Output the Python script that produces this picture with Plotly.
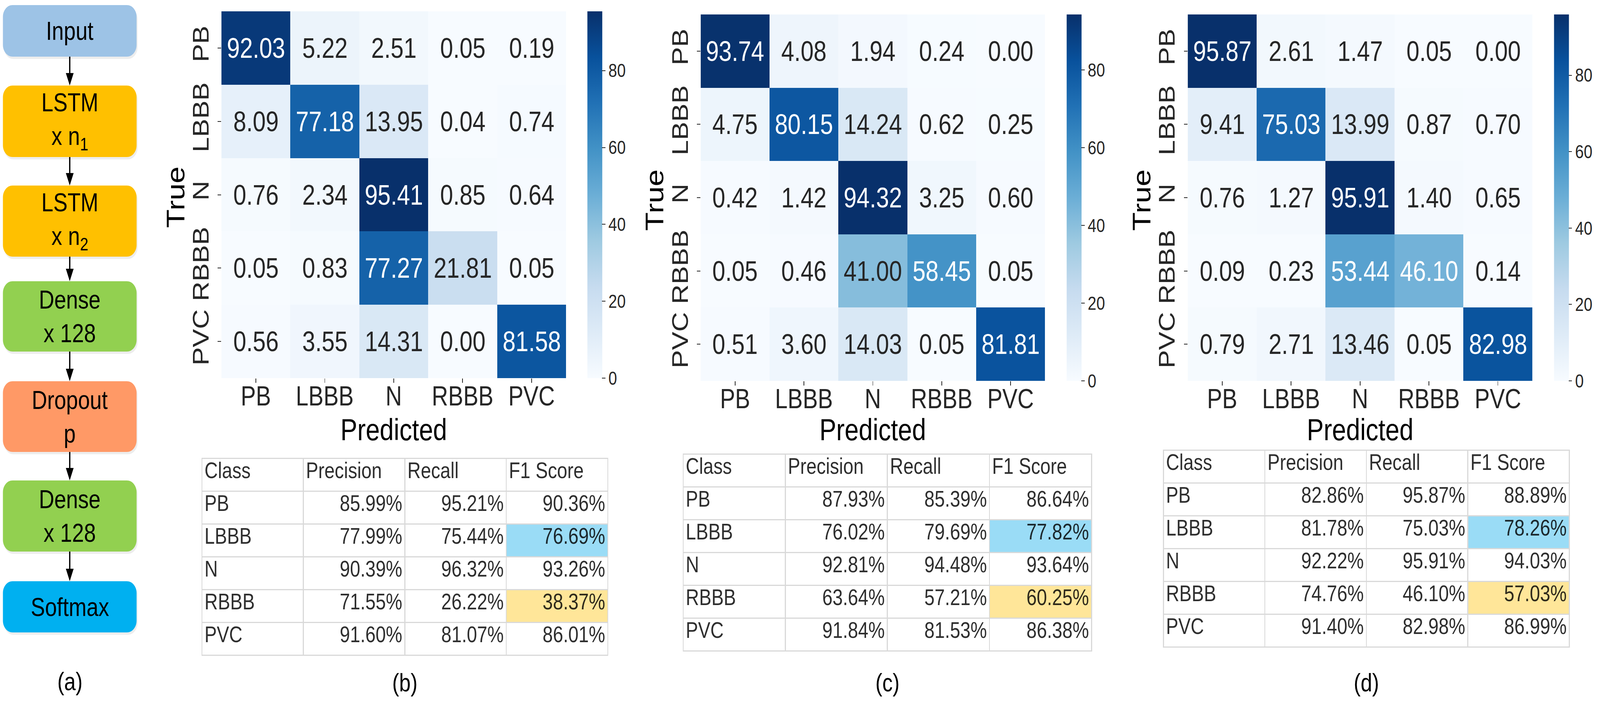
import plotly.graph_objects as go

W, H = 4944, 1833

# ---------------- data ----------------
classes = ["PB", "LBBB", "N", "RBBB", "PVC"]

cm_b = [[92.03, 5.22, 2.51, 0.05, 0.19],
        [8.09, 77.18, 13.95, 0.04, 0.74],
        [0.76, 2.34, 95.41, 0.85, 0.64],
        [0.05, 0.83, 77.27, 21.81, 0.05],
        [0.56, 3.55, 14.31, 0.00, 81.58]]
cm_c = [[93.74, 4.08, 1.94, 0.24, 0.00],
        [4.75, 80.15, 14.24, 0.62, 0.25],
        [0.42, 1.42, 94.32, 3.25, 0.60],
        [0.05, 0.46, 41.00, 58.45, 0.05],
        [0.51, 3.60, 14.03, 0.05, 81.81]]
cm_d = [[95.87, 2.61, 1.47, 0.05, 0.00],
        [9.41, 75.03, 13.99, 0.87, 0.70],
        [0.76, 1.27, 95.91, 1.40, 0.65],
        [0.09, 0.23, 53.44, 46.10, 0.14],
        [0.79, 2.71, 13.46, 0.05, 82.98]]

colorbar_ticks = [0, 20, 40, 60, 80]

table_header = ["Class", "Precision", "Recall", "F1 Score"]
prec_b = [85.99, 77.99, 90.39, 71.55, 91.60]
rec_b = [95.21, 75.44, 96.32, 26.22, 81.07]
f1_b = [90.36, 76.69, 93.26, 38.37, 86.01]
prec_c = [87.93, 76.02, 92.81, 63.64, 91.84]
rec_c = [85.39, 79.69, 94.48, 57.21, 81.53]
f1_c = [86.64, 77.82, 93.64, 60.25, 86.38]
prec_d = [82.86, 81.78, 92.22, 74.76, 91.40]
rec_d = [95.87, 75.03, 95.91, 46.10, 82.98]
f1_d = [88.89, 78.26, 94.03, 57.03, 86.99]

layers = ["Input", "LSTM<br>x n<sub>1</sub>", "LSTM<br>x n<sub>2</sub>",
          "Dense<br>x 128", "Dropout<br>p", "Dense<br>x 128", "Softmax"]
layer_colors = ["#9DC3E6", "#FFC000", "#FFC000", "#92D050", "#FF9966", "#92D050", "#00B0F0"]

panel_labels = ["(a)", "(b)", "(c)", "(d)"]
x_title = "Predicted"
y_title = "True"

# ---------------- styling ----------------
FONT = "Liberation Sans, Arial, sans-serif"
TXT = "#262626"
blues = ["#f7fbff", "#deebf7", "#c6dbef", "#9ecae1", "#6baed6",
         "#4292c6", "#2171b5", "#08519c", "#08306b"]
blues_scale = [[i / (len(blues) - 1), c] for i, c in enumerate(blues)]
HL_BLUE = "#9ADCF6"
HL_YELLOW = "#FFE699"


def px(x):
    return x / W


def py(y):
    return 1 - y / H


panels = [
    dict(cm=cm_b, prec=prec_b, rec=rec_b, f1=f1_b,
         hm=(684, 29, 1749, 968), cb=1815, tb=(624, 1173, 1878)),
    dict(cm=cm_c, prec=prec_c, rec=rec_c, f1=f1_c,
         hm=(2165, 37, 3229, 975), cb=3296, tb=(2111, 1162, 3373)),
    dict(cm=cm_d, prec=prec_d, rec=rec_d, f1=f1_d,
         hm=(3670, 37, 4735, 975), cb=4802, tb=(3595, 1152, 4849)),
]
ROW_H = 84

fig = go.Figure()
annotations = []
shapes = []
layout_axes = {}

for k, p in enumerate(panels):
    n = "" if k == 0 else str(k + 1)
    cm = p["cm"]
    zmax = max(max(r) for r in cm)
    x0, y0, x1, y1 = p["hm"]
    fig.add_trace(go.Heatmap(
        z=cm, x=classes, y=classes, xaxis="x" + n, yaxis="y" + n,
        zmin=0, zmax=zmax, colorscale=blues_scale, showscale=True,
        hoverinfo="skip",
        colorbar=dict(
            x=px(p["cb"]), xanchor="left", xpad=0, ypad=0,
            y=py(y0), yanchor="top", len=(y1 - y0) / H, lenmode="fraction",
            thickness=46, thicknessmode="pixels", outlinewidth=0,
            tickvals=colorbar_ticks, ticks="outside", ticklen=10, tickwidth=2,
            tickcolor=TXT, tickfont=dict(family=FONT, size=48, color=TXT)),
    ))
    layout_axes["xaxis" + n] = dict(
        domain=[px(x0), px(x1)], anchor="y" + n, type="category",
        tickfont=dict(family=FONT, size=70, color=TXT),
        ticks="outside", ticklen=11, tickwidth=2, tickcolor=TXT,
        ticklabelstandoff=-26,
        showgrid=False, zeroline=False, showline=False,
    )
    layout_axes["yaxis" + n] = dict(
        domain=[py(y1), py(y0)], anchor="x" + n, type="category",
        autorange="reversed", tickangle=-90,
        tickfont=dict(family=FONT, size=70, color=TXT),
        ticks="outside", ticklen=11, tickwidth=2, tickcolor=TXT,
        showgrid=False, zeroline=False, showline=False,
    )
    # axis titles
    annotations.append(dict(
        x=px((x0 + x1) / 2), y=py(1100), xref="paper", yref="paper",
        xanchor="center", yanchor="middle", text=x_title, showarrow=False,
        font=dict(family=FONT, size=78, color="black")))
    annotations.append(dict(
        x=px(x0 - 142), y=py((y0 + y1) / 2 + 6), xref="paper", yref="paper",
        xanchor="center", yanchor="middle", text=y_title, showarrow=False,
        textangle=-90, font=dict(family=FONT, size=78, color="black")))
    for i, row in enumerate(cm):
        for j, v in enumerate(row):
            annotations.append(dict(
                x=classes[j], y=classes[i], xref="x" + n, yref="y" + n,
                text=f"{v:.2f}", showarrow=False,
                xanchor="center", yanchor="middle",
                font=dict(family=FONT, size=72,
                          color="white" if v / zmax > 0.45 else TXT)))

    tx0, ty0, tx1 = p["tb"]
    f1_fill = ["white", HL_BLUE, "white", HL_YELLOW, "white"]
    fig.add_trace(go.Table(
        domain=dict(x=[px(tx0), px(tx1)], y=[py(ty0 + ROW_H * 6 + 20), py(ty0)]),
        columnwidth=[1, 1, 1, 1],
        header=dict(values=table_header, height=ROW_H, align="left",
                    fill_color="white", line=dict(color="#D9D9D9", width=3),
                    font=dict(family=FONT, size=57, color="rgba(0,0,0,0.82)")),
        cells=dict(values=[classes,
                           [f"{v:.2f}%" for v in p["prec"]],
                           [f"{v:.2f}%" for v in p["rec"]],
                           [f"{v:.2f}%" for v in p["f1"]]],
                   height=ROW_H, align=["left", "right", "right", "right"],
                   fill=dict(color=[["white"] * 5, ["white"] * 5, ["white"] * 5, f1_fill]),
                   line=dict(color="#D9D9D9", width=3),
                   font=dict(family=FONT, size=57, color="rgba(0,0,0,0.82)")),
    ))
    annotations.append(dict(
        x=px((tx0 + tx1) / 2), y=py(1748), xref="paper", yref="paper",
        xanchor="center", yanchor="middle",
        text=panel_labels[k + 1], showarrow=False,
        font=dict(family=FONT, size=64, color="black")))

# ---------------- block diagram (a) ----------------
box_left, box_right = 9, 422
box_tops = [13, 219, 475, 720, 976, 1230, 1488]
box_bottoms = [145, 402, 657, 900, 1157, 1412, 1619]
R = 30
KAP = 0.5523


def rrect_path(l, t, r, b, rad):
    c = rad * KAP
    pts = [
        ("M", [(l + rad, t)]),
        ("L", [(r - rad, t)]),
        ("C", [(r - rad + c, t), (r, t + rad - c), (r, t + rad)]),
        ("L", [(r, b - rad)]),
        ("C", [(r, b - rad + c), (r - rad + c, b), (r - rad, b)]),
        ("L", [(l + rad, b)]),
        ("C", [(l + rad - c, b), (l, b - rad + c), (l, b - rad)]),
        ("L", [(l, t + rad)]),
        ("C", [(l, t + rad - c), (l + rad - c, t), (l + rad, t)]),
    ]
    s = ""
    for cmd, ps in pts:
        s += cmd + " ".join(f"{px(x):.6f},{py(y):.6f}" for x, y in ps) + " "
    return s + "Z"


cx = (box_left + box_right) / 2
for i, name in enumerate(layers):
    t, b = box_tops[i], box_bottoms[i]
    shapes.append(dict(type="path", xref="paper", yref="paper",
                       path=rrect_path(box_left + 3, t + 6, box_right + 3, b + 6, R),
                       fillcolor="rgba(0,0,0,0.07)", line=dict(width=0), layer="above"))
    shapes.append(dict(type="path", xref="paper", yref="paper",
                       path=rrect_path(box_left, t, box_right, b, R),
                       fillcolor=layer_colors[i], line=dict(width=0), layer="above"))
    annotations.append(dict(x=px(cx), y=py((t + b) / 2), xref="paper", yref="paper",
                            xanchor="center", yanchor="middle",
                            text=name, showarrow=False,
                            font=dict(family=FONT, size=66, color="black")))
    if i < len(layers) - 1:
        a0, a1 = b, box_tops[i + 1]
        head_len, head_w = 32, 12
        shapes.append(dict(type="line", xref="paper", yref="paper",
                           x0=px(cx), x1=px(cx), y0=py(a0), y1=py(a1 - head_len + 2),
                           line=dict(color="black", width=4), layer="above"))
        shapes.append(dict(type="path", xref="paper", yref="paper",
                           path=f"M{px(cx - head_w):.6f},{py(a1 - head_len):.6f} "
                                f"L{px(cx + head_w):.6f},{py(a1 - head_len):.6f} "
                                f"L{px(cx):.6f},{py(a1):.6f} Z",
                           fillcolor="black", line=dict(width=0), layer="above"))

annotations.append(dict(x=px(cx), y=py(1745), xref="paper", yref="paper",
                        xanchor="center", yanchor="middle",
                        text=panel_labels[0], showarrow=False,
                        font=dict(family=FONT, size=64, color="black")))

fig.update_layout(
    width=W, height=H, margin=dict(l=0, r=0, t=0, b=0),
    paper_bgcolor="white", plot_bgcolor="white",
    font=dict(family=FONT, color=TXT),
    showlegend=False, annotations=annotations, shapes=shapes,
    **layout_axes,
)

# The browser viewport may be narrower than the requested figure size;
# scale the rendered figure so it fills the window exactly.
fit_js = """
(function(){
  var gd = document.getElementById('{plot_id}');
  document.documentElement.style.margin = '0';
  document.body.style.margin = '0';
  document.body.style.overflow = 'hidden';
  var sx = window.innerWidth / %d, sy = window.innerHeight / %d;
  if (Math.abs(sx - 1) > 0.002 || Math.abs(sy - 1) > 0.002) {
    gd.style.transformOrigin = '0 0';
    gd.style.transform = 'scale(' + sx + ',' + sy + ')';
  }
})();
""" % (W, H)

fig.write_html("out.html", post_script=fit_js, config={"displayModeBar": False})
